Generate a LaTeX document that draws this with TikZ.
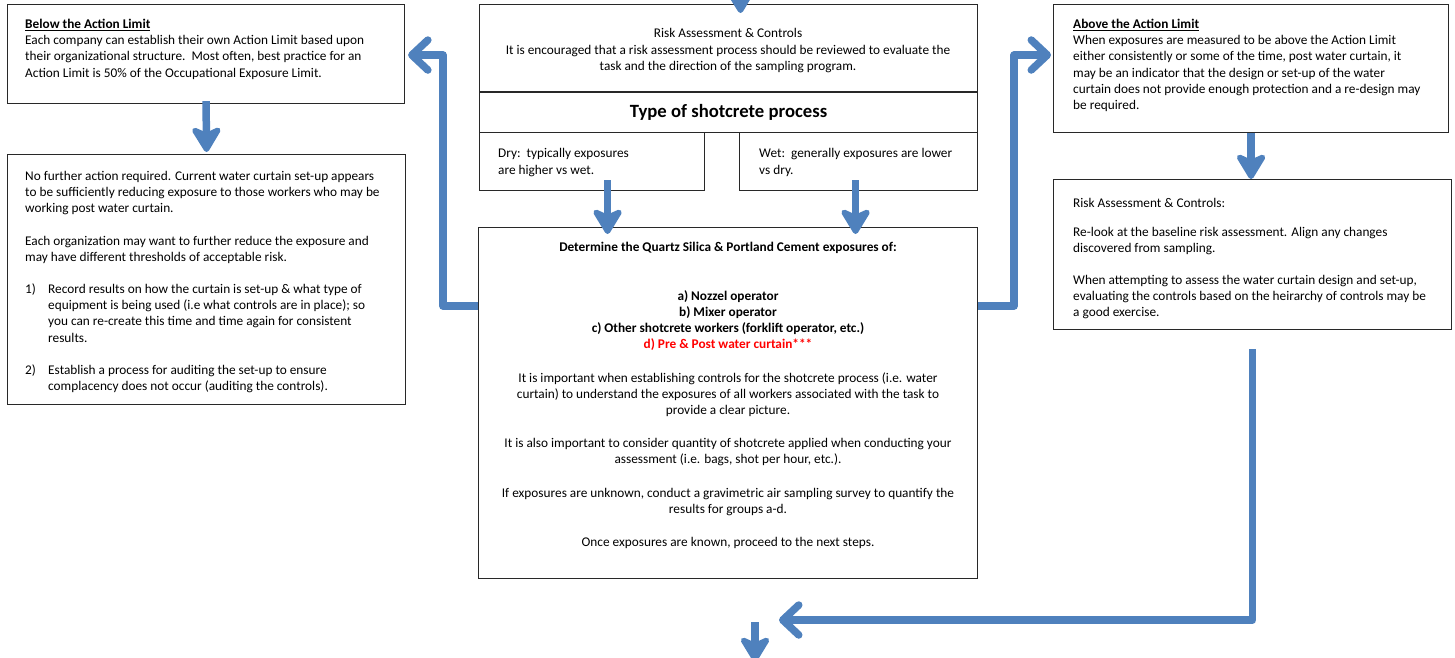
\documentclass[tikz,border=0pt]{standalone}
\usepackage{fontspec}
\setmainfont{Carlito}
\usepackage{tikz}
\usetikzlibrary{positioning}
\usetikzlibrary{arrows.meta}
\usetikzlibrary{calc}
\definecolor{flowblue}{RGB}{79,129,189}
\definecolor{boxline}{RGB}{40,40,40}
\definecolor{alertred}{RGB}{255,0,0}
\tikzset{
  flow/.style={draw=flowblue, line width=7.5pt, line join=round},
  downarr/.style={flow, -{Stealth[round, length=30pt, width=36pt, inset=8pt]}},
  elbow/.style={flow, -{Straight Barb[round, length=16pt, width=30pt]}},
}

\begin{document}
\begin{tikzpicture}[x=1pt, y=-1pt, font=\fontsize{13.3}{16.2}\selectfont]
	\clip (0,0) rectangle (1455,657);

	% boxes
	\begin{scope}[every node/.style={draw=boxline, line width=1.1pt, anchor=north west, inner sep=0pt}]
	    \node (bl) [minimum width=397pt, minimum height=99pt] at (7,4) {};
	    \node (ra) [minimum width=498pt, minimum height=87pt] at (479,4) {};
	    \node (type) [minimum width=498pt, minimum height=40pt, font=\fontsize{18.7}{22}\selectfont\bfseries] at (479,92) {Type of shotcrete process};
	    \node (dry) [minimum width=225pt, minimum height=58pt] at (479,132) {};
	    \node (wet) [minimum width=238pt, minimum height=58pt] at (739,132) {};
	    \node (det) [minimum width=499pt, minimum height=351pt] at (478,227) {};
	    \node (al) [minimum width=395pt, minimum height=128pt] at (1053,4) {};
	    \node (nf) [minimum width=398pt, minimum height=250pt] at (7,154) {};
	    \node (rr) [minimum width=398pt, minimum height=150pt] at (1053,179) {};
	\end{scope}

	% texts
	\begin{scope}[every node/.style={anchor=north west, align=left, inner sep=0pt}]
	    \node (bltext) at (25,19) {\underline{\textbf{Below the Action Limit}}\\
	        Each company can establish their own Action Limit based upon\\
	        their organizational structure.\ \ Most often, best practice for an\\
	        Action Limit is 50\% of the Occupational Exposure Limit.};
	    \node (ratext) [anchor=north, align=center] at (728,28.5) {Risk Assessment \& Controls\\
	        It is encouraged that a risk assessment process should be reviewed to evaluate the\\
	        task and the direction of the sampling program.};
	    \node (drytext) at (498,148.5) {Dry:\ \ typically exposures\\are higher vs wet.};
	    \node (wettext) at (759,148.5) {Wet:\ \ generally exposures are lower\\vs dry.};
	    \node (dettext) [anchor=north, align=center] at (728,241.5) {\textbf{Determine the Quartz Silica \& Portland Cement exposures of:}\\[33pt]
	        \textbf{a) Nozzel operator}\\
	        \textbf{b) Mixer operator}\\
	        \textbf{c) Other shotcrete workers (forklift operator, etc.)}\\
	        \textcolor{alertred}{\textbf{d) Pre \& Post water curtain***}}\\[17pt]
	        It is important when establishing controls for the shotcrete process (i.e. water\\
	        curtain) to understand the exposures of all workers associated with the task to\\
	        provide a clear picture.\\[17pt]
	        It is also important to consider quantity of shotcrete applied when conducting your\\
	        assessment (i.e. bags, shot per hour, etc.).\\[17pt]
	        If exposures are unknown, conduct a gravimetric air sampling survey to quantify the\\
	        results for groups a-d.\\[17pt]
	        Once exposures are known, proceed to the next steps.};
	    \node (altext) at (1073,19) {\underline{\textbf{Above the Action Limit}}\\
	        When exposures are measured to be above the Action Limit\\
	        either consistently or some of the time, post water curtain, it\\
	        may be an indicator that the design or set-up of the water\\
	        curtain does not provide enough protection and a re-design may\\
	        be required.};
	    \node (nftext) at (25,171) {No further action required. Current water curtain set-up appears\\
	        to be sufficiently reducing exposure to those workers who may be\\
	        working post water curtain.\\[16pt]
	        Each organization may want to further reduce the exposure and\\
	        may have different thresholds of acceptable risk.\\[16pt]
	        \makebox[23pt][l]{1)}Record results on how the curtain is set-up \& what type of\\
	        \hspace*{23pt}equipment is being used (i.e what controls are in place); so\\
	        \hspace*{23pt}you can re-create this time and time again for consistent\\
	        \hspace*{23pt}results.\\[16pt]
	        \makebox[23pt][l]{2)}Establish a process for auditing the set-up to ensure\\
	        \hspace*{23pt}complacency does not occur (auditing the controls).};
	    \node (rrtext) at (1073,198) {Risk Assessment \& Controls:\\[13pt]
	        Re-look at the baseline risk assessment. Align any changes\\
	        discovered from sampling.\\[15pt]
	        When attempting to assess the water curtain design and set-up,\\
	        evaluating the controls based on the heirarchy of controls may be\\
	        a good exercise.};
	\end{scope}

	% connectors
	\coordinate (topin) at (740,-40);
	\coordinate (bend) at (779,620);
	\coordinate (nxt) at (755,622);
	\coordinate (nxtend) at (755,662);

	\draw [downarr] (topin) -- ($(ra.north)+(12,9)$);
	\draw [downarr] ($(bl.south)+(0,-3)$) -- ($(nf.north)+(0,-2)$);
	\draw [downarr] ($(dry.south)+(15.5,-11)$) -- ($(dry.south |- det.north)+(15.5,7)$);
	\draw [downarr] ($(wet.south)+(-3,-11)$) -- ($(wet.south |- det.north)+(-3,7)$);
	\draw [downarr] (al.south) -- (al.south |- rr.north);
	\draw [elbow] ($(det.north west)+(0,79)$) -- ++(-35,0) |- ($(bl.east)+(3,1)$);
	\draw [elbow] ($(det.north east)+(0,79)$) -- ++(36,0) |- ($(al.north west)+(-2,51)$);
	\draw [elbow] ($(rr.south)+(0,19)$) |- (bend);
	\draw [downarr] (nxt) -- (nxtend);
\end{tikzpicture}
\end{document}
